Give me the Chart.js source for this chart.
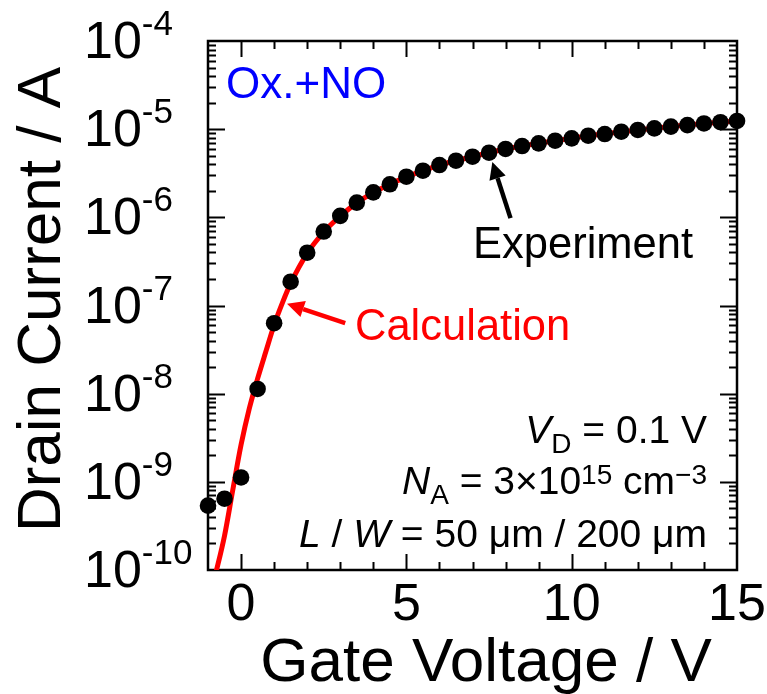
<!DOCTYPE html>
<html><head><meta charset="utf-8">
<script src="https://cdn.jsdelivr.net/npm/chart.js@4/dist/chart.umd.min.js"></script>
<style>html,body{margin:0;padding:0;background:#fff;overflow:hidden;} #wrap{width:767px;height:694px;position:relative;}</style>
</head><body><div id="wrap"><canvas id="c" width="767" height="694"></canvas></div>
<script>
// ---- data ----
const gateVoltage = [-1, -0.5, 0, 0.5, 1, 1.5, 2, 2.5, 3, 3.5, 4, 4.5, 5, 5.5, 6, 6.5, 7, 7.5, 8, 8.5, 9, 9.5, 10, 10.5, 11, 11.5, 12, 12.5, 13, 13.5, 14, 14.5, 15];
const drainCurrentExp = [5.37e-10, 6.44e-10, 1.12e-9, 1.13e-8, 6.3e-8, 1.86e-7, 3.97e-7, 6.9e-7, 1.04e-6, 1.47e-6, 1.92e-6, 2.37e-6, 2.89e-6, 3.38e-6, 3.92e-6, 4.39e-6, 4.87e-6, 5.41e-6, 5.96e-6, 6.44e-6, 6.9e-6, 7.4e-6, 7.87e-6, 8.43e-6, 8.81e-6, 9.36e-6, 9.79e-6, 1.02e-5, 1.07e-5, 1.11e-5, 1.16e-5, 1.20e-5, 1.24e-5];
const calcVoltage = [-0.8, -0.5, -0.25, 0, 0.25, 0.5, 0.75, 1, 1.25, 1.5, 2, 2.5, 3, 3.5, 4, 4.5, 5, 6, 7, 8, 9, 10, 11, 12, 13, 14, 15];
const drainCurrentCalc = [8.1e-11, 2.45e-10, 8.1e-10, 2.63e-9, 6.8e-9, 1.48e-8, 3.0e-8, 6.0e-8, 1.07e-7, 1.78e-7, 3.9e-7, 6.8e-7, 1.03e-6, 1.46e-6, 1.91e-6, 2.37e-6, 2.88e-6, 3.92e-6, 4.87e-6, 5.95e-6, 6.9e-6, 7.9e-6, 8.85e-6, 9.8e-6, 1.07e-5, 1.16e-5, 1.24e-5];
const xTickValues = [0, 5, 10, 15];
const xTickLabels = ['0', '5', '10', '15'];
const yTickValues = [1e-4, 1e-5, 1e-6, 1e-7, 1e-8, 1e-9, 1e-10];
const yTickExponents = ['-4', '-5', '-6', '-7', '-8', '-9', '-10'];
const xTitle = 'Gate Voltage / V';
const yTitle = 'Drain Current / A';

// ---- drawing helpers ----
const FF = '"Liberation Sans", Arial, sans-serif';
function font(size, italic) { return (italic ? 'italic ' : '') + size + 'px ' + FF; }
function drawRich(ctx, segs, x, baseline, align) {
  let total = 0;
  const ws = segs.map(s => { ctx.font = font(s.size, s.italic); const w = ctx.measureText(s.t).width; total += w; return w; });
  let cx = align === 'right' ? x - total : x;
  segs.forEach((s, i) => {
    ctx.font = font(s.size, s.italic);
    ctx.fillStyle = s.color || '#000';
    ctx.textAlign = 'left';
    ctx.textBaseline = 'alphabetic';
    ctx.fillText(s.t, cx, baseline + (s.dy || 0));
    cx += ws[i];
  });
}
function arrow(ctx, x0, y0, x1, y1, color) {
  const ang = Math.atan2(y1 - y0, x1 - x0);
  const hl = 17, hw = 8.5;
  const bx = x1 - hl * Math.cos(ang), by = y1 - hl * Math.sin(ang);
  ctx.strokeStyle = color; ctx.fillStyle = color; ctx.lineWidth = 4.5; ctx.lineCap = 'butt';
  ctx.beginPath(); ctx.moveTo(x0, y0); ctx.lineTo(bx, by); ctx.stroke();
  ctx.beginPath();
  ctx.moveTo(x1, y1);
  ctx.lineTo(bx + hw * Math.sin(ang), by - hw * Math.cos(ang));
  ctx.lineTo(bx - hw * Math.sin(ang), by + hw * Math.cos(ang));
  ctx.closePath(); ctx.fill();
}

const framePlugin = {
  id: 'frame',
  beforeDatasetsDraw(chart) {
    const { ctx, chartArea: a, scales: { x, y } } = chart;
    ctx.save();
    ctx.strokeStyle = '#000';
    ctx.lineWidth = 2;
    ctx.beginPath();
    for (let v = Math.ceil(x.min); v <= x.max; v++) {
      if (v === x.min || v === x.max) continue;
      const px = Math.round(x.getPixelForValue(v)) + 0.5;
      const len = (v % 5 === 0) ? 16 : 8;
      ctx.moveTo(px, a.bottom); ctx.lineTo(px, a.bottom - len);
      ctx.moveTo(px, a.top); ctx.lineTo(px, a.top + len);
    }
    for (let d = -10; d <= -4; d++) {
      for (let m = 1; m <= 9; m++) {
        const val = m * Math.pow(10, d);
        if (val > 1e-4 * 1.0001) continue;
        if (m === 1 && (d === -10 || d === -4)) continue;
        const py = Math.round(y.getPixelForValue(val)) + 0.5;
        const len = m === 1 ? 17 : 8;
        ctx.moveTo(a.left, py); ctx.lineTo(a.left + len, py);
        ctx.moveTo(a.right, py); ctx.lineTo(a.right - len, py);
      }
    }
    ctx.stroke();
    ctx.lineWidth = 2.5;
    ctx.strokeRect(a.left, a.top, a.right - a.left, a.bottom - a.top);
    ctx.restore();
  },
  afterDraw(chart) {
    const { ctx, chartArea: a, scales: { x, y } } = chart;
    ctx.save();
    ctx.fillStyle = '#000';
    ctx.font = font(52);
    ctx.textAlign = 'center'; ctx.textBaseline = 'alphabetic';
    xTickValues.forEach((v, i) => ctx.fillText(xTickLabels[i], x.getPixelForValue(v), 620));
    yTickValues.forEach((v, i) => {
      const py = y.getPixelForValue(v);
      drawRich(ctx, [
        { t: '10', size: 52 },
        { t: yTickExponents[i], size: 35, dy: -23 }
      ], 84, py + 17, 'left');
    });
    ctx.fillStyle = '#000';
    ctx.font = font(62);
    ctx.textAlign = 'center'; ctx.textBaseline = 'alphabetic';
    ctx.fillText(xTitle, 486, 681);
    ctx.save();
    ctx.translate(60, (a.top + a.bottom) / 2 - 6);
    ctx.rotate(-Math.PI / 2);
    ctx.fillText(yTitle, 0, 0);
    ctx.restore();

    drawRich(ctx, [{ t: 'Ox.+NO', size: 44, color: '#0000FF' }], 226, 98, 'left');
    drawRich(ctx, [{ t: 'Experiment', size: 43.5 }], 473, 258, 'left');
    drawRich(ctx, [{ t: 'Calculation', size: 43.5, color: '#FF0000' }], 355, 340, 'left');
    arrow(ctx, x.getPixelForValue(8.15), y.getPixelForValue(9.8e-7), x.getPixelForValue(7.6), y.getPixelForValue(4.25e-6), '#000');
    arrow(ctx, x.getPixelForValue(3.15), y.getPixelForValue(6.3e-8), x.getPixelForValue(1.39), y.getPixelForValue(1.05e-7), '#FF0000');

    const R = 707, S = 39, s = 28;
    drawRich(ctx, [
      { t: 'V', size: S, italic: true },
      { t: 'D', size: s, dy: 10 },
      { t: ' = 0.1 V', size: S }
    ], R, 443, 'right');
    drawRich(ctx, [
      { t: 'N', size: S, italic: true },
      { t: 'A', size: s, dy: 10 },
      { t: ' = 3\u00d710', size: S },
      { t: '15', size: s, dy: -10 },
      { t: ' cm', size: S },
      { t: '\u22123', size: s, dy: -10 }
    ], R, 494, 'right');
    drawRich(ctx, [
      { t: 'L', size: S, italic: true },
      { t: ' / ', size: S },
      { t: 'W', size: S, italic: true },
      { t: ' = 50 \u03bcm / 200 \u03bcm', size: S }
    ], R, 547, 'right');
    ctx.restore();
  }
};

new Chart(document.getElementById('c'), {
  type: 'scatter',
  data: {
    datasets: [
      {
        label: 'Experiment',
        data: gateVoltage.map((v, i) => ({ x: v, y: drainCurrentExp[i] })),
        showLine: false,
        pointRadius: 8.3,
        pointBackgroundColor: '#000',
        pointBorderWidth: 0,
        pointBorderColor: '#000',
        clip: false
      },
      {
        label: 'Calculation',
        type: 'line',
        data: calcVoltage.map((v, i) => ({ x: v, y: drainCurrentCalc[i] })),
        showLine: true,
        borderColor: '#FF0000',
        borderWidth: 5,
        pointRadius: 0,
        fill: false,
        cubicInterpolationMode: 'monotone'
      }
    ]
  },
  options: {
    responsive: false,
    animation: false,
    devicePixelRatio: 1,
    layout: { padding: { left: 208, top: 41, right: 30, bottom: 124 } },
    plugins: { legend: { display: false }, tooltip: { enabled: false } },
    scales: {
      x: { type: 'linear', min: -1, max: 15, display: false },
      y: { type: 'logarithmic', min: 1e-10, max: 1e-4, display: false }
    }
  },
  plugins: [framePlugin]
});
</script>
</body></html>
